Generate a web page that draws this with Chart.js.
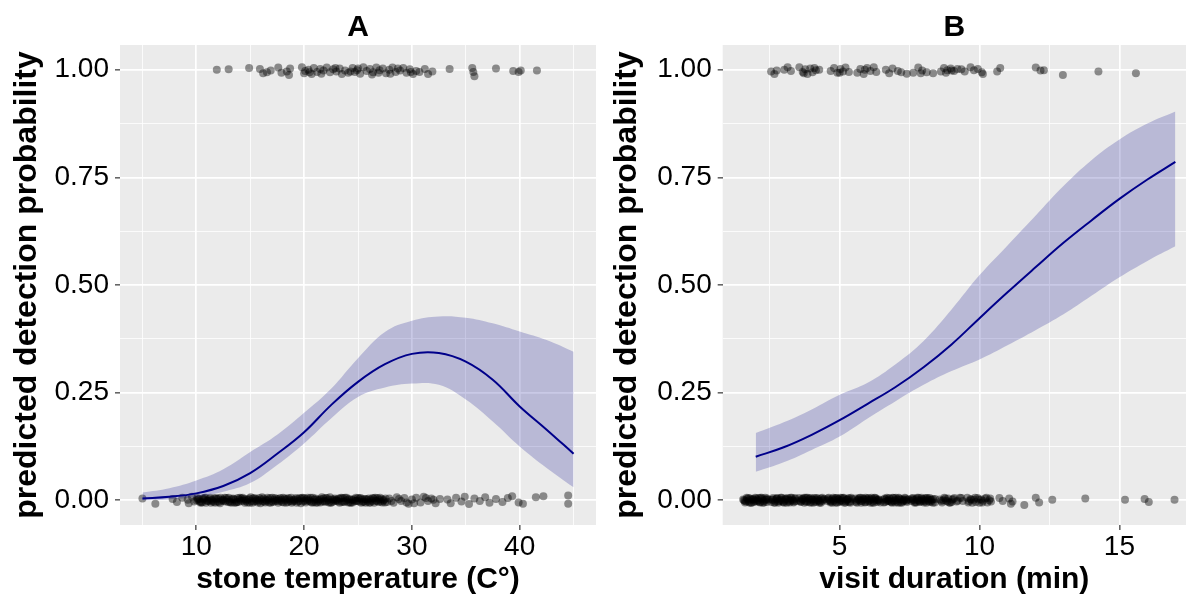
<!DOCTYPE html>
<html>
<head>
<meta charset="utf-8">
<script src="https://cdn.jsdelivr.net/npm/chart.js@4.4.1/dist/chart.umd.min.js"></script>
<style>
html, body { margin: 0; padding: 0; background: #fff; }
#wrapA { position: absolute; left: 0; top: 0; width: 600px; height: 598px; }
#wrapB { position: absolute; left: 600px; top: 0; width: 590px; height: 598px; }
</style>
</head>
<body>
<div id="wrapA"><canvas id="chartA" width="600" height="598"></canvas></div>
<div id="wrapB"><canvas id="chartB" width="590" height="598"></canvas></div>
<script>
// ---- panel A: stone temperature ----
const tempX     = [5, 7.5, 10, 12.5, 15, 17.5, 20, 22.5, 25, 27.5, 30, 32.5, 35, 37.5, 40, 42.5, 45];
const tempFit   = [0.004, 0.008, 0.016, 0.033, 0.063, 0.108, 0.158, 0.221, 0.275, 0.316, 0.340, 0.342, 0.322, 0.280, 0.218, 0.164, 0.108];
const tempUpper = [0.018, 0.028, 0.046, 0.072, 0.112, 0.152, 0.203, 0.259, 0.330, 0.391, 0.417, 0.427, 0.424, 0.411, 0.392, 0.372, 0.345];
const tempLower = [0.000, 0.002, 0.008, 0.020, 0.040, 0.082, 0.132, 0.190, 0.240, 0.262, 0.271, 0.268, 0.234, 0.183, 0.125, 0.075, 0.030];

// observed detections (jittered) [x, y]
const tempSeen = [
  [11.9,1.0],[13.0,1.001],[14.9,1.004],[15.9,1.002],[16.2,0.992],[16.55,0.994],[16.9,0.998],[17.6,1.005],
  [17.9,0.993],[18.4,0.996],[18.6,0.988],[18.7,1.003],[19.8,1.006],[20.0,0.992],[20.1,0.997],[20.4,1.0],
  [20.7,0.99],[20.9,1.004],[21.2,0.995],[21.5,1.002],[21.6,0.991],[21.8,0.998],[22.1,1.005],[22.4,0.994],
  [22.7,1.001],[23.0,0.996],[23.3,1.003],[23.5,0.99],[23.8,0.998],[24.1,0.993],[24.5,1.004],[24.7,0.995],
  [24.9,0.999],[25.2,0.991],[25.5,1.006],[25.8,0.997],[26.1,1.002],[26.3,0.989],[26.4,0.994],[26.7,1.005],
  [27.0,0.999],[27.3,1.003],[27.6,0.992],[27.9,1.0],[28.2,1.005],[28.5,0.995],[28.9,0.998],[29.2,1.004],
  [29.5,0.993],[29.8,1.001],[30.1,0.99],[30.4,0.997],[30.7,0.995],[31.2,1.002],[31.5,0.99],[31.9,0.996],
  [33.5,1.002],[35.6,1.004],[35.7,0.995],[35.8,0.985],[37.8,1.003],[39.4,0.997],[39.9,0.995],[40.1,0.998],[41.6,0.998],
  [20.5,0.994],[22.9,1.004],[24.3,0.996],[25.0,1.003],[26.9,0.993],[28.0,0.991],[28.7,1.003],[29.9,0.995]
];
const tempMissed = [
  // sparse, left
  [5.0,0.004],[6.2,-0.008],[7.8,0.003],[8.2,-0.004],[8.7,0.006],[9.2,0.001],[9.3,-0.007],[9.6,0.008],
  // dense block 10-27.7
  [9.8,-0.003],[10.1,0.005],[10.4,-0.006],[10.7,0.002],[11.0,-0.001],[11.3,0.006],[11.6,-0.004],[11.9,0.003],
  [12.2,-0.007],[12.5,0.001],[12.8,0.005],[13.1,-0.003],[13.4,0.004],[13.7,-0.005],[14.0,0.002],[14.3,0.006],
  [14.6,-0.002],[14.9,0.004],[15.2,-0.006],[15.5,0.003],[15.8,-0.001],[16.1,0.007],[16.4,-0.005],[16.7,0.002],
  [17.0,-0.003],[17.3,0.005],[17.6,-0.006],[17.9,0.001],[18.2,0.004],[18.5,-0.004],[18.8,0.006],[19.1,-0.002],
  [19.4,0.003],[19.7,-0.007],[20.0,0.005],[20.3,-0.001],[20.6,0.006],[20.9,-0.004],[21.2,0.002],[21.5,-0.005],
  [21.8,0.004],[22.1,-0.002],[22.4,0.007],[22.7,-0.003],[23.0,0.001],[23.3,-0.006],[23.6,0.005],[23.9,-0.001],
  [24.2,0.003],[24.5,-0.005],[24.8,0.006],[25.1,-0.003],[25.4,0.002],[25.7,-0.006],[26.0,0.004],[26.3,-0.002],
  [26.6,0.006],[26.9,-0.004],[27.2,0.003],[27.5,-0.005],
  [10.25,0.003],[10.55,-0.005],[10.85,0.006],[11.15,-0.002],[11.45,0.001],[11.75,-0.006],[12.05,0.004],[12.35,-0.001],
  [12.65,0.006],[12.95,-0.004],[13.25,0.002],[13.55,-0.006],[13.85,0.005],[14.15,-0.002],[14.45,0.003],[14.75,-0.005],
  [15.05,0.007],[15.35,-0.003],[15.65,0.001],[15.95,-0.007],[16.25,0.004],[16.55,-0.001],[16.85,0.005],[17.15,-0.004],
  [17.45,0.003],[17.75,-0.002],[18.05,0.006],[18.35,-0.006],[18.65,0.002],[18.95,-0.003],[19.25,0.005],[19.55,-0.001],
  [19.85,0.006],[20.15,-0.005],[20.45,0.002],[20.75,-0.006],[21.05,0.004],[21.35,-0.002],[21.65,0.007],[21.95,-0.004],
  [22.25,0.001],[22.55,-0.005],[22.85,0.004],[23.15,-0.003],[23.45,0.006],[23.75,-0.004],[24.05,0.002],[24.35,-0.006],
  [24.65,0.003],[24.95,-0.001],[25.25,0.005],[25.55,-0.003],[25.85,0.001],[26.15,-0.005],[26.45,0.004],[26.75,-0.002],
  [27.05,0.006],[27.35,-0.001],
  [10.0,0.0],[10.3,-0.003],[10.6,0.004],[10.9,-0.006],[11.2,0.003],[11.5,-0.002],[11.8,0.005],[12.1,-0.004],
  [12.4,0.002],[12.7,-0.003],[13.0,0.006],[13.3,-0.005],[13.6,0.001],[13.9,-0.004],[14.2,0.004],[14.5,-0.006],
  [14.8,0.001],[15.1,-0.002],[15.4,0.005],[15.7,-0.005],[16.0,0.002],[16.3,-0.003],[16.6,0.006],[16.9,-0.006],
  [17.2,0.001],[17.5,-0.001],[17.8,0.005],[18.1,-0.005],[18.4,0.003],[18.7,-0.002],[19.0,0.001],[19.3,-0.006],
  [19.6,0.005],[19.9,-0.003],[20.2,0.003],[20.5,-0.002],[20.8,0.006],[21.1,-0.006],[21.4,0.001],[21.7,-0.003],
  [22.0,0.005],[22.3,-0.005],[22.6,0.002],[22.9,-0.001],[23.2,0.004],[23.5,-0.004],[23.8,0.006],[24.1,-0.005],
  [24.4,0.001],[24.7,-0.002],[25.0,0.005],[25.3,-0.006],[25.6,0.003],[25.9,-0.003],[26.2,0.002],[26.5,-0.006],
  [26.8,0.005],[27.1,-0.003],[27.4,0.001],[27.7,-0.004],
  [10.15,0.002],[10.45,-0.004],[10.75,0.005],[11.05,-0.001],[11.35,-0.006],[11.65,0.004],[11.95,-0.003],[12.25,0.006],
  [12.55,-0.002],[12.85,0.001],[13.15,-0.005],[13.45,0.003],[13.75,-0.004],[14.05,0.006],[14.35,-0.001],[14.65,0.002],
  [14.95,-0.006],[15.25,0.004],[15.55,-0.002],[15.85,0.005],[16.15,-0.003],[16.45,0.001],[16.75,-0.005],[17.05,0.006],
  [17.35,-0.002],[17.65,0.003],[17.95,-0.004],[18.25,0.0],[18.55,0.005],[18.85,-0.006],[19.15,0.002],[19.45,-0.003],
  [19.75,0.004],[20.05,-0.001],[20.35,0.006],[20.65,-0.004],[20.95,0.001],[21.25,-0.005],[21.55,0.003],[21.85,-0.002],
  [22.15,0.005],[22.45,-0.006],[22.75,0.002],[23.05,-0.001],[23.35,0.004],[23.65,-0.003],[23.95,0.006],[24.25,-0.005],
  [24.55,0.0],[24.85,-0.002],[25.15,0.004],[25.45,-0.004],[25.75,0.003],[26.05,-0.006],[26.35,0.005],[26.65,-0.001],
  [26.95,0.002],[27.25,-0.005],[27.55,0.004],
  // medium density 28-33
  [27.9,0.004],[28.3,-0.006],[28.6,0.007],[29.0,-0.002],[29.3,0.005],[29.7,-0.008],[30.0,0.002],[30.4,0.006],
  [30.8,-0.005],[31.1,0.008],[31.5,-0.002],[31.8,0.004],[32.2,-0.007],[32.6,0.003],
  [28.1,-0.002],[28.8,0.003],[29.5,-0.005],[30.2,-0.007],[31.3,0.005],[32.0,0.001],
  // sparse, right
  [33.3,0.002],[33.6,-0.007],[34.1,0.006],[34.6,-0.003],[34.9,0.008],[35.3,-0.009],[35.8,0.004],[36.3,-0.002],
  [36.8,0.007],[37.2,-0.006],[37.8,0.003],[38.4,-0.004],[38.9,0.005],[39.3,0.009],[39.9,-0.005],[40.3,-0.008],
  [41.5,0.007],[42.2,0.009],[44.5,0.011],[44.5,-0.008]
];

// ---- panel B: visit duration ----
const durX     = [2, 3, 4, 5, 6, 7, 8, 9, 10, 11, 12, 13, 14, 15, 16, 17];
const durFit   = [0.101, 0.123, 0.152, 0.186, 0.224, 0.263, 0.309, 0.362, 0.423, 0.483, 0.541, 0.598, 0.650, 0.700, 0.745, 0.786];
const durUpper = [0.156, 0.181, 0.211, 0.245, 0.273, 0.316, 0.370, 0.443, 0.523, 0.592, 0.661, 0.730, 0.790, 0.838, 0.875, 0.903];
const durLower = [0.066, 0.088, 0.117, 0.148, 0.190, 0.230, 0.268, 0.300, 0.327, 0.360, 0.395, 0.432, 0.475, 0.518, 0.556, 0.590];

const durSeen = [
  [2.55,0.996],[2.67,0.99],[2.75,0.998],[3.02,1.0],[3.14,1.006],[3.26,0.997],[3.56,1.006],[3.68,0.995],
  [3.77,1.001],[3.85,0.99],[3.95,1.003],[4.03,0.994],[4.15,0.999],[4.27,1.0],[4.68,0.997],[4.8,1.004],
  [4.92,0.993],[5.03,1.002],[5.12,0.996],[5.21,1.005],[5.33,0.995],[5.63,0.993],[5.74,1.002],[5.86,0.99],
  [5.98,1.004],[6.1,0.997],[6.22,1.006],[6.31,0.995],[6.65,1.0],[6.77,0.992],[6.89,1.003],[7.08,0.997],
  [7.2,0.994],[7.4,0.991],[7.63,0.993],[7.81,1.005],[7.95,0.998],[8.11,0.994],[8.34,0.992],[8.62,0.996],
  [8.73,1.004],[8.85,0.999],[8.97,1.003],[9.09,0.997],[9.21,1.002],[9.35,1.001],[9.47,0.996],[9.68,1.006],
  [9.8,0.999],[9.94,1.002],[10.08,0.994],[10.12,0.99],[10.63,0.996],[10.74,1.004],[12.01,1.005],[12.18,0.998],
  [12.3,0.999],[12.98,0.988],[14.25,0.996],[15.59,0.992],
  [3.72,0.992],[4.1,1.004],[5.0,0.993],[5.9,1.0],[7.9,0.992],[8.8,0.993],[9.0,0.998]
];
const durMissed = [
  // ~2 min
  [1.55,0.002],[1.62,-0.005],[1.68,0.006],[1.74,-0.001],[1.8,0.004],[1.86,-0.006],[1.92,0.001],[1.98,0.006],
  [2.04,-0.003],[2.1,0.005],[2.16,-0.005],[2.22,0.003],[2.28,-0.002],[2.34,0.006],[2.4,-0.004],[2.45,0.001],
  [1.61,-0.002],[1.69,0.003],[1.77,-0.005],[1.85,0.002],[1.93,-0.004],[2.01,0.004],[2.09,-0.001],[2.17,0.006],
  [2.25,-0.006],[2.33,0.001],[2.41,0.004],
  [1.58,0.0],[1.66,-0.003],[1.74,0.005],[1.82,-0.006],[1.9,0.003],[1.98,-0.002],[2.06,0.001],[2.14,-0.004],
  [2.22,0.006],[2.3,-0.005],[2.38,0.002],
  // ~3 min
  [2.56,-0.004],[2.62,0.005],[2.69,-0.001],[2.75,0.003],[2.81,-0.006],[2.87,0.002],[2.93,0.006],[2.99,-0.003],
  [3.05,0.004],[3.11,-0.006],[3.17,0.002],[3.23,-0.001],[3.29,0.006],[3.35,-0.005],[3.41,0.003],[3.46,-0.002],
  [2.61,0.002],[2.69,-0.005],[2.77,0.005],[2.85,-0.002],[2.93,0.0],[3.01,-0.006],[3.09,0.003],[3.17,-0.003],
  [3.25,0.006],[3.33,-0.001],[3.41,0.005],
  [2.58,0.001],[2.66,-0.006],[2.74,0.004],[2.82,-0.003],[2.9,0.006],[2.98,-0.004],[3.06,0.001],[3.14,0.005],
  [3.22,-0.005],[3.3,0.002],[3.38,-0.003],
  // ~4 min
  [3.56,0.005],[3.62,-0.003],[3.68,0.001],[3.74,-0.006],[3.8,0.006],[3.86,-0.002],[3.92,0.004],[3.98,-0.005],
  [4.04,0.002],[4.1,0.005],[4.16,-0.004],[4.22,0.0],[4.28,-0.006],[4.34,0.004],[4.4,-0.001],[4.45,0.003],
  [3.61,-0.004],[3.69,0.004],[3.77,-0.002],[3.85,0.006],[3.93,-0.005],[4.01,0.001],[4.09,-0.003],[4.17,0.005],
  [4.25,-0.001],[4.33,-0.006],[4.41,0.002],
  [3.58,-0.001],[3.66,0.003],[3.74,0.006],[3.82,-0.004],[3.9,0.002],[3.98,0.005],[4.06,-0.006],[4.14,0.001],
  [4.22,0.004],[4.3,-0.003],[4.38,0.006],
  // ~5 min
  [4.55,-0.002],[4.61,0.006],[4.67,-0.005],[4.73,0.003],[4.79,-0.001],[4.85,0.005],[4.91,-0.006],[4.97,0.002],
  [5.03,0.006],[5.09,-0.003],[5.15,0.004],[5.21,-0.005],[5.27,0.001],[5.33,0.005],[5.39,-0.003],[5.44,0.003],
  [4.61,0.001],[4.69,-0.003],[4.77,0.006],[4.85,-0.005],[4.93,0.003],[5.01,-0.002],[5.09,0.005],[5.17,-0.006],
  [5.25,0.002],[5.33,-0.004],[5.41,0.006],
  [4.58,0.004],[4.66,-0.001],[4.74,-0.006],[4.82,0.002],[4.9,0.005],[4.98,-0.004],[5.06,0.0],[5.14,0.006],
  [5.22,-0.002],[5.3,0.003],[5.38,-0.006],
  // ~6 min
  [5.56,0.004],[5.62,-0.006],[5.68,0.002],[5.74,0.006],[5.8,-0.002],[5.86,0.003],[5.92,-0.004],[5.98,0.001],
  [6.04,0.005],[6.1,-0.006],[6.16,0.003],[6.22,-0.001],[6.28,0.005],[6.34,-0.004],[6.4,0.002],[6.46,-0.005],
  [5.61,-0.001],[5.69,0.005],[5.77,-0.006],[5.85,0.001],[5.93,0.006],[6.01,-0.003],[6.09,0.002],[6.17,-0.005],
  [6.25,0.006],[6.33,0.0],[6.41,-0.002],
  [5.58,-0.004],[5.66,0.002],[5.74,-0.002],[5.82,0.005],[5.9,-0.005],[5.98,0.004],[6.06,-0.001],[6.14,0.006],
  [6.22,-0.006],[6.3,0.003],[6.38,0.001],
  // ~7 min
  [6.57,0.001],[6.63,-0.004],[6.69,0.006],[6.75,-0.002],[6.81,0.003],[6.87,-0.006],[6.93,0.005],[6.99,0.0],
  [7.05,-0.003],[7.11,0.006],[7.17,-0.005],[7.23,0.002],[7.29,-0.001],[7.35,0.004],[7.41,-0.004],[7.46,0.002],
  [6.61,0.004],[6.69,-0.002],[6.77,0.005],[6.85,-0.004],[6.93,-0.001],[7.01,0.006],[7.09,-0.006],[7.17,0.002],
  [7.25,-0.003],[7.33,0.006],[7.41,0.001],
  [6.58,-0.005],[6.66,0.003],[6.74,0.0],[6.82,-0.003],[6.9,0.006],[6.98,-0.005],[7.06,0.002],[7.14,0.004],
  [7.22,-0.006],[7.3,0.001],[7.38,-0.002],
  // ~8 min
  [7.56,-0.002],[7.62,0.005],[7.68,-0.006],[7.74,0.003],[7.8,0.0],[7.86,-0.004],[7.92,0.006],[7.98,-0.002],
  [8.04,0.004],[8.1,-0.006],[8.16,0.002],[8.22,0.005],[8.28,-0.003],[8.34,0.003],[8.4,-0.005],
  [7.61,0.002],[7.69,-0.004],[7.77,0.006],[7.85,-0.001],[7.93,0.003],[8.01,-0.005],[8.09,0.005],[8.17,-0.002],
  [8.25,0.001],[8.33,-0.006],[8.41,0.003],
  [7.58,0.004],[7.66,0.0],[7.74,-0.005],[7.82,0.006],[7.9,-0.003],[7.98,0.002],[8.06,-0.001],[8.14,0.005],
  [8.22,-0.004],[8.3,0.001],
  // ~9 min
  [8.58,0.002],[8.66,-0.005],[8.74,0.006],[8.8,-0.001],[8.88,0.004],[8.95,-0.006],[9.02,0.001],[9.1,0.005],
  [9.18,-0.003],[9.3,0.006],[9.4,-0.002],[8.63,-0.002],[8.78,0.004],[8.92,-0.005],[9.06,0.003],[9.22,-0.001],
  [9.35,0.005],[8.7,0.0],[8.85,-0.003],[9.0,-0.004],
  // ~10 min
  [9.56,0.006],[9.62,-0.002],[9.68,0.003],[9.74,-0.006],[9.8,0.001],[9.86,-0.004],[9.93,0.005],[10.0,-0.006],
  [10.06,0.002],[10.12,-0.001],[10.2,0.004],[10.28,-0.005],[10.35,0.0],[10.41,-0.003],[9.6,-0.005],[9.7,0.001],
  [9.84,0.006],[9.97,0.002],[10.1,-0.005],[10.25,0.006],[10.38,0.004],
  // sparse, right
  [10.71,0.005],[10.83,-0.002],[11.06,0.004],[11.12,-0.008],[11.18,-0.003],[11.6,-0.011],[12.01,0.006],[12.13,-0.005],
  [12.6,0.001],[13.78,0.004],[15.2,0.001],[15.9,0.003],[16.05,-0.004],[16.97,0.001]
];

// ---- axes ----
const probTicks  = [0, 0.125, 0.25, 0.375, 0.5, 0.625, 0.75, 0.875, 1];
const probMajor  = [0, 0.25, 0.5, 0.75, 1];
const tempTicks  = [5, 10, 15, 20, 25, 30, 35, 40, 45];
const tempMajor  = [10, 20, 30, 40];
const durTicks   = [2.5, 5, 7.5, 10, 12.5, 15];
const durMajor   = [5, 10, 15];

const FONT = "'Liberation Sans', Arial, sans-serif";
const bandFill = 'rgba(0, 0, 139, 0.21)';
const lineCol = '#00008B';
const dotCol = 'rgba(0, 0, 0, 0.42)';

const panelBg = {
  id: 'panelBg',
  beforeDraw(chart) {
    const { ctx, chartArea: a } = chart;
    ctx.save();
    ctx.fillStyle = '#EBEBEB';
    ctx.fillRect(a.left, a.top, a.right - a.left, a.bottom - a.top);
    ctx.restore();
  }
};

function pts(xs, ys) {
  return xs.map((x, i) => ({ x: x, y: ys[i] }));
}

function gridOpts(major) {
  return {
    color: '#FFFFFF',
    lineWidth: ctx => (ctx.tick && major.includes(ctx.tick.value)) ? 1.7 : 0.8,
    tickLength: 5,
    tickWidth: 1.2,
    tickColor: ctx => (ctx.tick && major.includes(ctx.tick.value)) ? '#333333' : 'rgba(0,0,0,0)'
  };
}

function makeChart(id, title, xTitle, xs, fit, up, lo, seen, missed, xMin, xMax, xTicks, xMajor, yWidth, padRight) {
  return new Chart(document.getElementById(id), {
    type: 'scatter',
    data: {
      datasets: [
        { data: pts(xs, lo), showLine: true, pointRadius: 0, borderWidth: 0, borderColor: 'rgba(0,0,0,0)', fill: false, tension: 0.4 },
        { data: pts(xs, up), showLine: true, pointRadius: 0, borderWidth: 0, borderColor: 'rgba(0,0,0,0)', backgroundColor: bandFill, fill: '-1', tension: 0.4 },
        { data: pts(xs, fit), showLine: true, pointRadius: 0, borderWidth: 2, borderColor: lineCol, fill: false, tension: 0.4 },
        { data: missed.map(p => ({ x: p[0], y: p[1] })), pointRadius: 4, pointBorderWidth: 0, pointBackgroundColor: dotCol },
        { data: seen.map(p => ({ x: p[0], y: p[1] })), pointRadius: 4, pointBorderWidth: 0, pointBackgroundColor: dotCol }
      ]
    },
    options: {
      responsive: false,
      animation: false,
      layout: { padding: { left: 0, right: padRight, top: 0, bottom: 0 } },
      plugins: {
        legend: { display: false },
        tooltip: { enabled: false },
        title: {
          display: true,
          fullSize: false,
          text: title,
          color: '#000',
          font: { family: FONT, size: 30, weight: 'bold', lineHeight: 1 },
          padding: { top: 13, bottom: 2 }
        }
      },
      scales: {
        x: {
          type: 'linear',
          min: xMin,
          max: xMax,
          afterBuildTicks: s => { s.ticks = xTicks.map(v => ({ value: v })); },
          afterFit: s => { s.height = 73; },
          border: { display: false },
          grid: gridOpts(xMajor),
          ticks: {
            autoSkip: false,
            maxRotation: 0,
            padding: 0,
            color: '#000',
            font: { family: FONT, size: 28 },
            callback: v => xMajor.includes(v) ? String(v) : ''
          },
          title: {
            display: true,
            text: xTitle,
            color: '#000',
            font: { family: FONT, size: 30, weight: 'bold' },
            padding: { top: 0, bottom: 0 }
          }
        },
        y: {
          type: 'linear',
          min: -0.0575,
          max: 1.0575,
          afterBuildTicks: s => { s.ticks = probTicks.map(v => ({ value: v })); },
          afterFit: s => { s.width = yWidth; },
          border: { display: false },
          grid: gridOpts(probMajor),
          ticks: {
            autoSkip: false,
            padding: 6,
            color: '#000',
            font: { family: FONT, size: 28 },
            callback: v => probMajor.includes(v) ? v.toFixed(2) : ''
          },
          title: {
            display: true,
            text: 'predicted detection probability',
            color: '#000',
            font: { family: FONT, size: 32, weight: 'bold' },
            padding: { top: 8, bottom: 0 }
          }
        }
      }
    },
    plugins: [panelBg]
  });
}

makeChart('chartA', 'A', 'stone temperature (C\u00B0)', tempX, tempFit, tempUpper, tempLower,
  tempSeen, tempMissed, 2.92, 47.08, tempTicks, tempMajor, 120, 3.5);
makeChart('chartB', 'B', 'visit duration (min)', durX, durFit, durUpper, durLower,
  durSeen, durMissed, 0.82, 17.38, durTicks, durMajor, 122.7, 0.5);
</script>
</body>
</html>
